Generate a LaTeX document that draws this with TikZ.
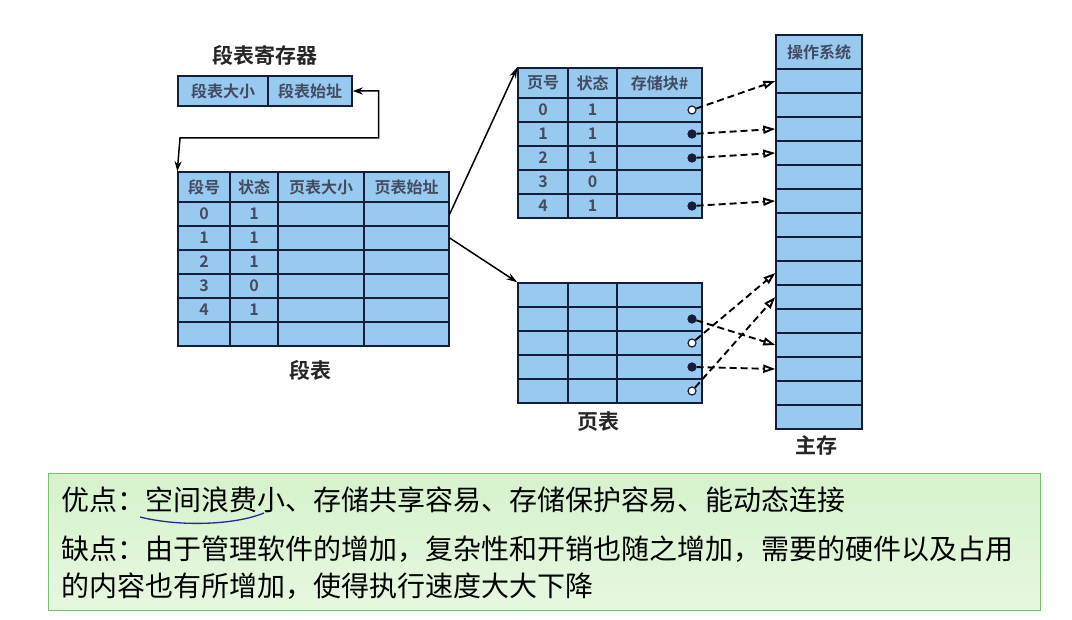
\documentclass[tikz,border=0pt]{standalone}
\usepackage{fontspec}
\setmainfont{Noto Sans CJK SC}
\newfontfamily\cjkb{Noto Sans CJK SC Bold}
\usetikzlibrary{arrows.meta}
\definecolor{cellblue}{RGB}{152,202,240}
\definecolor{navy}{RGB}{20,30,60}
\definecolor{boxgreen}{RGB}{120,190,110}
\definecolor{lightgreen}{RGB}{214,242,204}
\definecolor{penblue}{RGB}{40,40,150}
\tikzset{
  cell/.style={draw=navy, fill=cellblue, line width=1.4pt, inner sep=0pt},
  sep/.style={draw=navy, line width=1.4pt},
  txt/.style={font=\cjkb\fontsize{16}{16}\selectfont, text=navy!80},
  title/.style={font=\cjkb\fontsize{21}{21}\selectfont, text=black!85},
  dot/.style={circle, draw=navy, line width=1.2pt, inner sep=0pt, minimum size=8pt},
  ptr/.style={line width=1.5pt, -{Stealth[length=11pt,width=7pt]}},
  dptr/.style={dash pattern=on 7pt off 4pt, line width=1.9pt, -{Triangle[open,length=12pt,width=8pt]}}
}
\begin{document}
\begin{tikzpicture}[x=1pt,y=-1pt]
\useasboundingbox (0,0) rectangle (1072,620);
% segment register
\node[title] (regt) at (265,55) {段表寄存器};
\node[cell, minimum width=90pt, minimum height=30pt] (regsz) at (223,91) {};
\node[cell, minimum width=84pt, minimum height=30pt] (regad) at (310,91) {};
\node[txt] at (regsz) {段表大小};
\node[txt] at (regad) {段表始址};
%
% segment table
\node[cell, minimum width=271pt, minimum height=30pt] (sth) at (313.5,187) {};
\foreach \i in {0,...,5}
  \node[cell, minimum width=271pt, minimum height=24pt] (st\i) at (313.5,214+24*\i) {};
\foreach \x in {230,278,364} \draw[sep] (\x,172) -- (\x,346);
\node[txt] at (204,187) {段号};
\node[txt] at (254,187) {状态};
\node[txt] at (321,187) {页表大小};
\node[txt] at (406.5,187) {页表始址};
\foreach \n/\s [count=\i from 0] in {0/1,1/1,2/1,3/0,4/1}{
  \node[txt] at (204,214+24*\i) {\n};
  \node[txt] at (254,214+24*\i) {\s};
}
\node[title] (stt) at (310,370) {段表};
%
% page table 1
\node[cell, minimum width=184pt, minimum height=30pt] (pah) at (610,83) {};
\foreach \i in {0,...,4}
  \node[cell, minimum width=184pt, minimum height=24pt] (pa\i) at (610,110+24*\i) {};
\foreach \x in {568,617} \draw[sep] (\x,68) -- (\x,218);
\node[txt] at (543,83) {页号};
\node[txt] at (592.5,83) {状态};
\node[txt] at (659.5,83) {存储块\#};
\foreach \n/\s [count=\i from 0] in {0/1,1/1,2/1,3/0,4/1}{
  \node[txt] at (543,110+24*\i) {\n};
  \node[txt] at (592.5,110+24*\i) {\s};
}
\node[dot, fill=white] (da0) at (692,110) {};
\node[dot, fill=navy] (da1) at (692,134) {};
\node[dot, fill=navy] (da2) at (692,158) {};
\node[dot, fill=navy] (da4) at (692,206) {};
%
% page table 2
\foreach \i in {0,...,4}
  \node[cell, minimum width=184pt, minimum height=24pt] (pb\i) at (610,295+24*\i) {};
\foreach \x in {568,617} \draw[sep] (\x,283) -- (\x,403);
\node[dot, fill=navy] (db1) at (692,319) {};
\node[dot, fill=white] (db2) at (692,343) {};
\node[dot, fill=navy] (db3) at (692,367) {};
\node[dot, fill=white] (db4) at (692,391) {};
\node[title] (ptt) at (598,422) {页表};
%
% main memory
\node[cell, minimum width=86pt, minimum height=34pt] (mh) at (819,52) {};
\node[txt] at (mh) {操作系统};
\foreach \i in {0,...,14}
  \node[cell, minimum width=86pt, minimum height=24pt] (m\i) at (819,81+24*\i) {};
\node[title] (mt) at (816,446) {主存};
%
% connectors
\draw[line width=1.5pt, {Stealth[length=10pt,width=7pt]}-{Stealth[length=10pt,width=7pt]}]
  (regad.east) -- ++(26,0) |- (180,138) -- (sth.north west);
\draw[ptr] (st0.east) -- (pah.north west);
\draw[ptr] (st1.east) -- (pb0.north west);
\draw[dptr] (da0) -- (m0.west);
\draw[dptr] (da1) -- (m2.west);
\draw[dptr] (da2) -- (m3.west);
\draw[dptr] (da4) -- (m5.west);
\draw[dptr] (db1) -- (m11.west);
\draw[dptr] (db2) -- (m8.west);
\draw[dptr] (db3) -- (m12.west);
\draw[dptr] (db4) -- (m9.west);
%
% notes
\node[draw=boxgreen, line width=1pt, top color=lightgreen, bottom color=lightgreen!60!white,
  minimum width=992pt, minimum height=136pt] (note) at (544,542) {};
\node[anchor=west, font=\fontsize{28}{28}\selectfont] (n1) at (58,500) {优点：空间浪费小、存储共享容易、存储保护容易、能动态连接};
\node[anchor=west, font=\fontsize{28}{28}\selectfont] (n2) at (58,549) {缺点：由于管理软件的增加，复杂性和开销也随之增加，需要的硬件以及占用};
\node[anchor=west, font=\fontsize{28}{28}\selectfont] (n3) at (58,586) {的内容也有所增加，使得执行速度大大下降};
\draw[penblue, line width=1.3pt] (140,517) .. controls (180,527) and (235,525) .. (264,513);
\end{tikzpicture}
\end{document}
